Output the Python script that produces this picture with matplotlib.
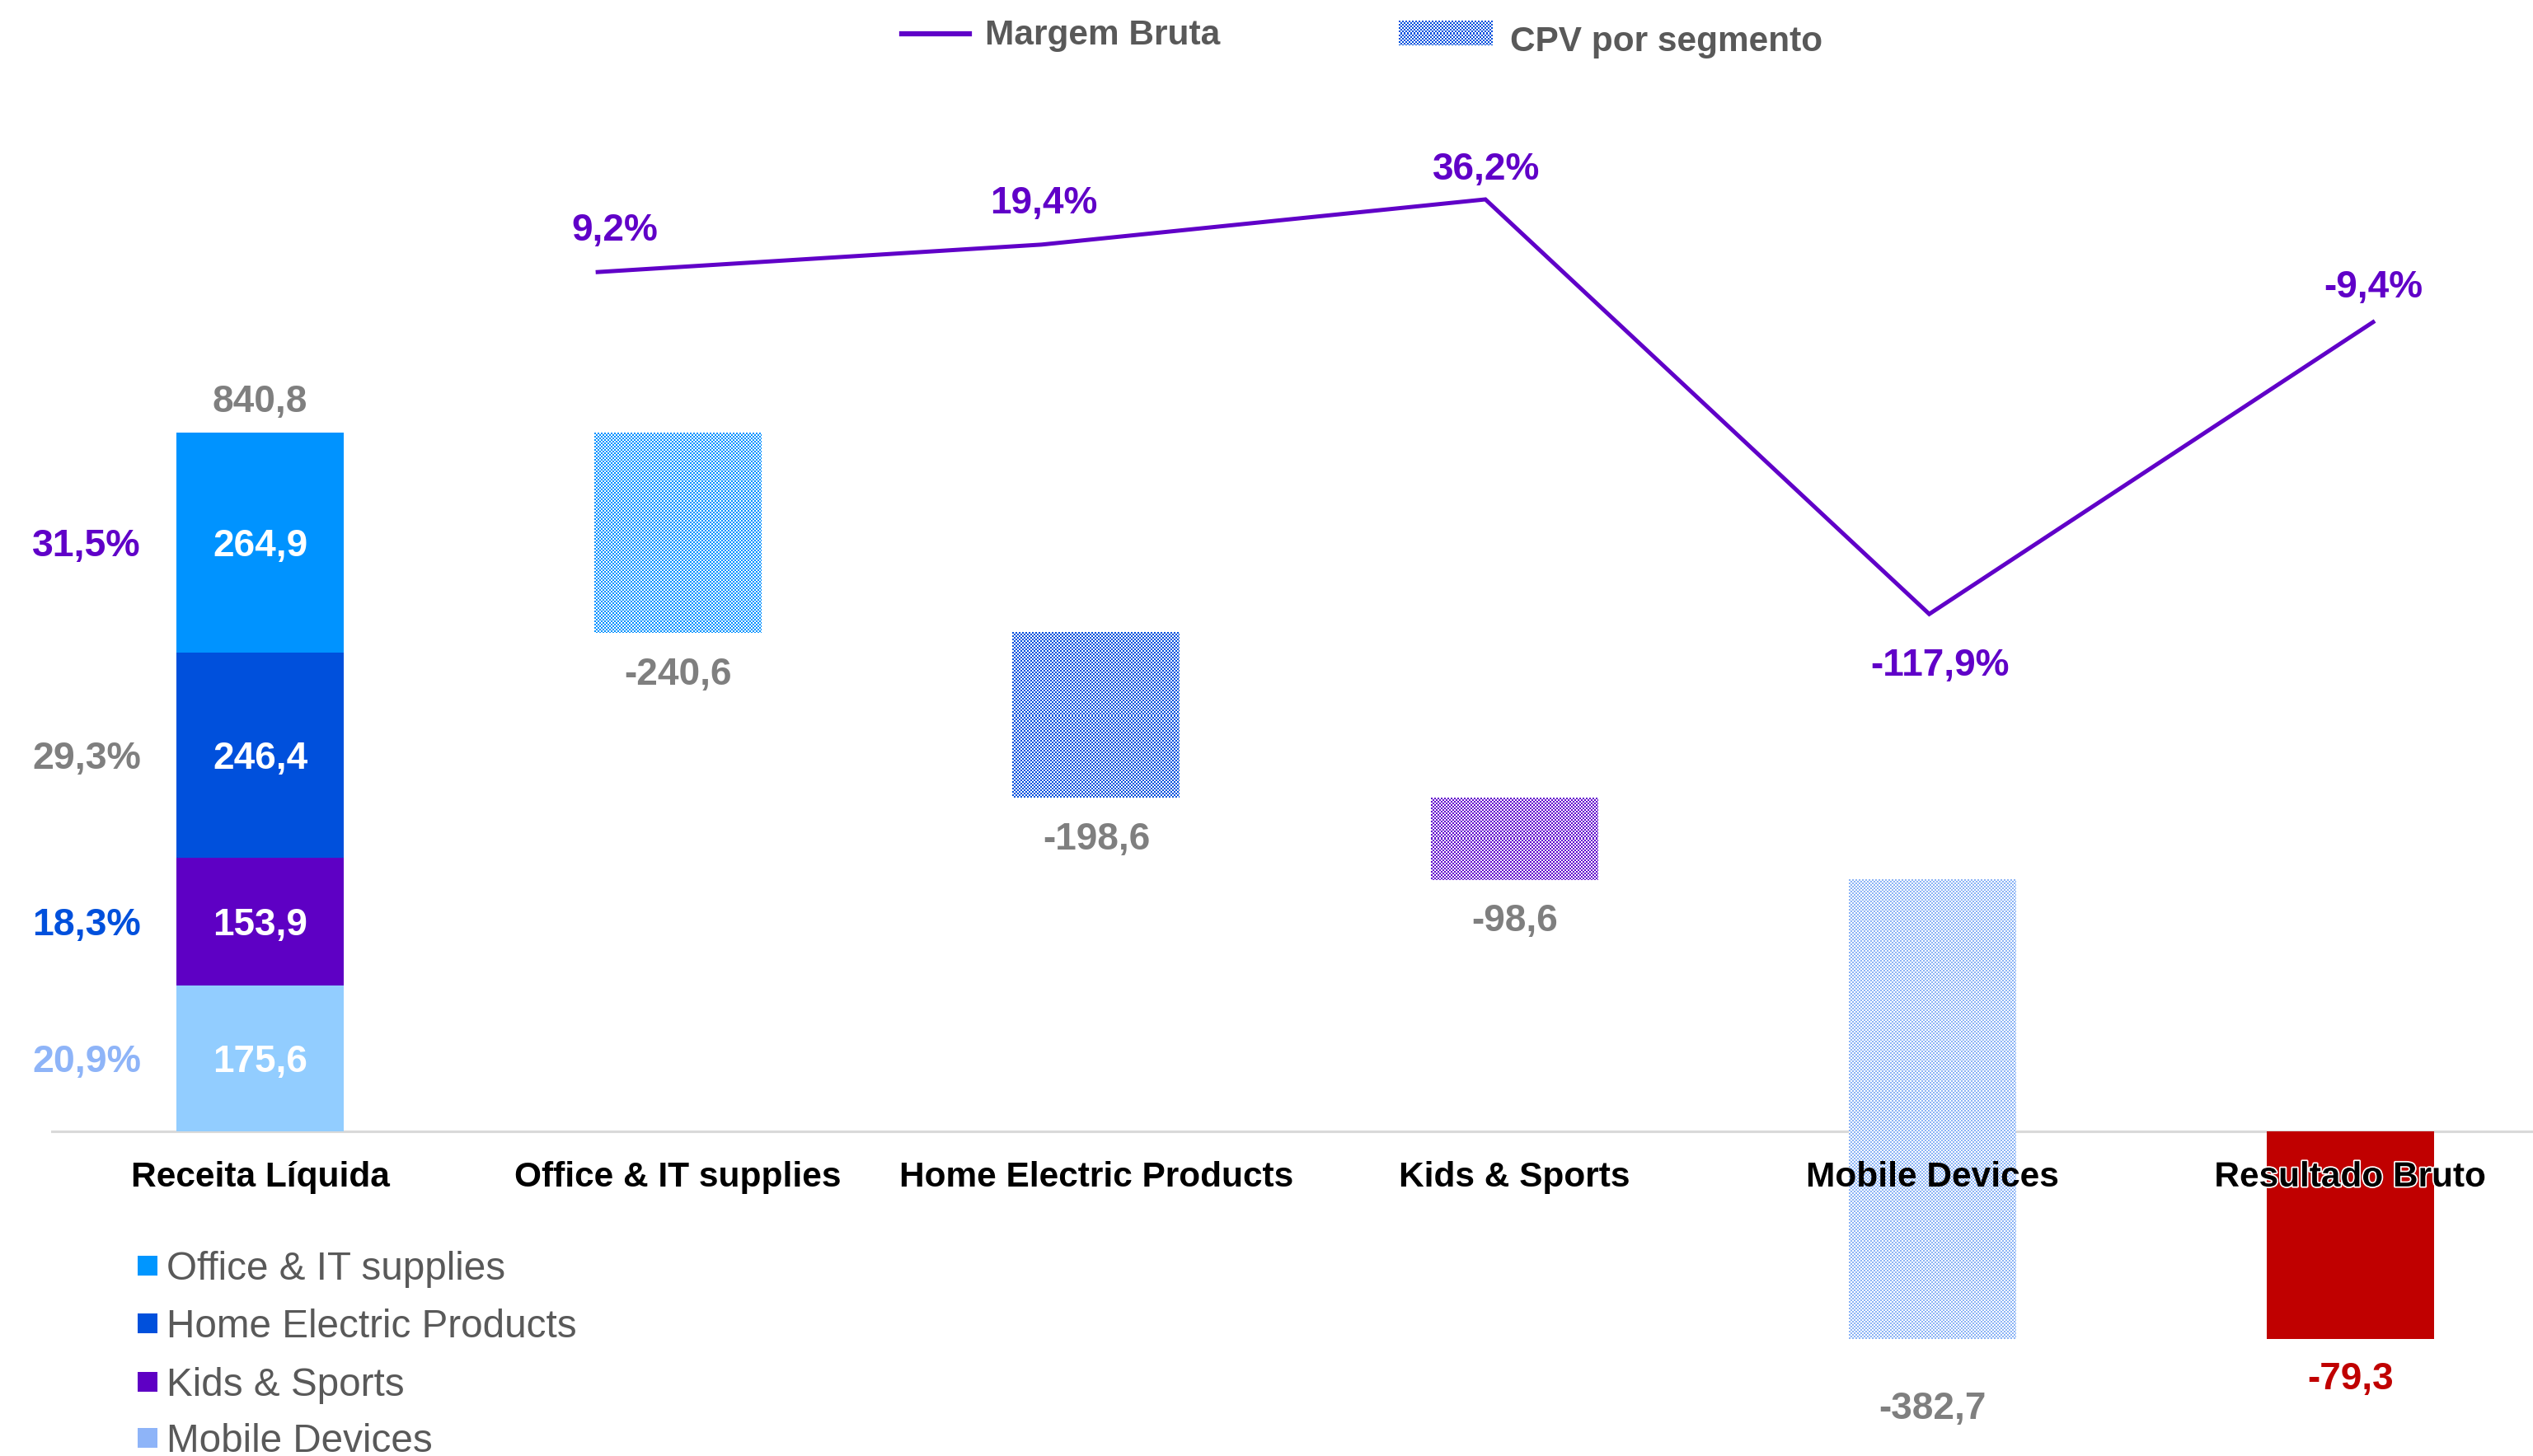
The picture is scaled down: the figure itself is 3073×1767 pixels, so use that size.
import numpy as np
import matplotlib
matplotlib.use('Agg')
import matplotlib.pyplot as plt
from matplotlib import patheffects as pe
from matplotlib.colors import to_rgb
from matplotlib.lines import Line2D
from matplotlib.patches import Rectangle

plt.rcParams['font.family'] = ['Liberation Sans', 'DejaVu Sans']

# ---------------- data ----------------
categories = ['Receita Líquida', 'Office & IT supplies', 'Home Electric Products',
              'Kids & Sports', 'Mobile Devices', 'Resultado Bruto']
segments = ['Office & IT supplies', 'Home Electric Products', 'Kids & Sports', 'Mobile Devices']
receita_seg = [264.9, 246.4, 153.9, 175.6]          # same order as segments (top -> bottom)
receita_total = 840.8
share_labels = ['31,5%', '29,3%', '18,3%', '20,9%']
cpv = [-240.6, -198.6, -98.6, -382.7]
resultado = -79.3
margem = [9.2, 19.4, 36.2, -117.9, -9.4]
margem_labels = ['9,2%', '19,4%', '36,2%', '-117,9%', '-9,4%']

# ---------------- style ----------------
seg_colors = ['#0093FF', '#0050DC', '#5E00C4', '#92CDFF']
share_colors = ['#6000C8', '#7F7F7F', '#0050DC', '#8EB4F8']
cpv_colors = ['#0091FF', '#0050DC', '#6000CC', '#8CB4F5']
legend_colors = ['#0096FF', '#0050DC', '#5E00C4', '#8EB4F8']
line_color = '#6000C8'
gray = '#7F7F7F'
dark_gray = '#595959'
red = '#C00000'
FLOOR = -250.0   # visual axis floor that long bars reach
W = 0.40
DY = -3.0        # small baseline correction for vertically centred labels (points)

def fmt(v):
    return f"{v:.1f}".replace('.', ',')

fig = plt.figure(figsize=(30.73, 17.67), dpi=100)
rect = [0.02015, 0.0, 0.99031, 1.0]
ax = fig.add_axes(rect)
ax.set_xlim(-0.5, 5.5)
ax.set_ylim(-390.3, 1361.2)
ax.set_axis_off()
ax.set_autoscale_on(False)

def checker(axis, x0, x1, y0, y1, color, cell=2, zorder=2):
    p0 = axis.transData.transform((x0, y0))
    p1 = axis.transData.transform((x1, y1))
    w = int(round(abs(p1[0] - p0[0])))
    h = int(round(abs(p1[1] - p0[1])))
    jj, ii = np.meshgrid(np.arange(w), np.arange(h))
    mask = ((ii // cell + jj // cell) % 2 == 0)
    rgb = np.ones((h, w, 3))
    rgb[mask] = to_rgb(color)
    axis.imshow(rgb, extent=(x0, x1, y0, y1), interpolation='nearest',
                aspect='auto', zorder=zorder)

def label(axis, s, xy, dx, dy, color, size=33, ha='center', weight='bold', z=4):
    return axis.annotate(s, xy, xytext=(dx, dy + DY), textcoords='offset points',
                         ha=ha, va='center', color=color, fontsize=size,
                         fontweight=weight, zorder=z)

# baseline
ax.axhline(0, color='#D9D9D9', lw=2.2, zorder=1)

# stacked receita bar (bottom -> top: Mobile, Kids, Home, Office)
base = 0.0
for i in reversed(range(len(segments))):
    v = receita_seg[i]
    ax.bar(0, v, bottom=base, width=W, color=seg_colors[i], zorder=2, linewidth=0)
    label(ax, fmt(v), (0, base + v / 2), 0, 0, 'white')
    label(ax, share_labels[i], (-0.285, base + v / 2), 0, 0, share_colors[i], size=33.5, ha='right')
    base += v
label(ax, fmt(receita_total), (0, receita_total), 0, 30, gray)

# waterfall CPV bars
level = receita_total
label_off = [-34, -34, -33, -58]
for k, c in enumerate(cpv):
    top = level
    bottom = level + c
    drawn_bottom = FLOOR if bottom < 0 else bottom
    checker(ax, k + 1 - W / 2, k + 1 + W / 2, drawn_bottom, top, cpv_colors[k])
    label(ax, fmt(c), (k + 1, drawn_bottom), 0, label_off[k], gray)
    level = bottom

# resultado bar
ax.bar(5, FLOOR, bottom=0, width=W, color=red, zorder=2, linewidth=0)
label(ax, fmt(resultado), (5, FLOOR), 0, -32, red)

# category labels
for i, cat in enumerate(categories):
    t = label(ax, cat, (i, 0), 0, -37, 'black', size=30.5, z=5)
    if i == 5:
        t.set_path_effects([pe.withStroke(linewidth=2.5, foreground='white')])

# margin line on its own axes
ax2 = fig.add_axes(rect)
ax2.set_xlim(-1.2317, 4.420)
ax2.set_ylim(-430.8, 110.3)
ax2.set_axis_off()
ax2.patch.set_alpha(0)
xs = np.arange(len(margem))
ax2.plot(xs, margem, color=line_color, lw=3.6, solid_joinstyle='miter', zorder=3)
lab_dx = [15, 2, 1, 9, 0]
lab_dy = [39, 39, 29, -42, 33]
for x, v, s, dx, dy in zip(xs, margem, margem_labels, lab_dx, lab_dy):
    label(ax2, s, (x, v), dx, dy, line_color)

# top legend
fig.add_artist(Line2D([0.3559, 0.3827], [0.977, 0.977], transform=fig.transFigure,
                      color=line_color, lw=4.5))
fig.text(0.3890, 0.9755, 'Margem Bruta', ha='left', va='center', color=dark_gray,
         fontsize=30.5, fontweight='bold')
lax = fig.add_axes([0.5523, 0.969, 0.037, 0.0166])
lax.set_xlim(0, 1); lax.set_ylim(0, 1); lax.set_axis_off()
checker(lax, 0, 1, 0, 1, '#0050DC')
fig.text(0.5963, 0.9710, 'CPV por segmento', ha='left', va='center', color=dark_gray,
         fontsize=30.5, fontweight='bold')

# bottom legend
ys = [0.1308, 0.0909, 0.0510, 0.0122]
for seg, col, y in zip(segments, legend_colors, ys):
    fig.add_artist(Rectangle((0.0542, y - 0.0068), 0.0078, 0.0136, transform=fig.transFigure,
                             color=col, lw=0))
    fig.text(0.0657, y - 0.0025, seg, ha='left', va='center', color=dark_gray, fontsize=34.3)

fig.savefig('out.png', dpi=100)
